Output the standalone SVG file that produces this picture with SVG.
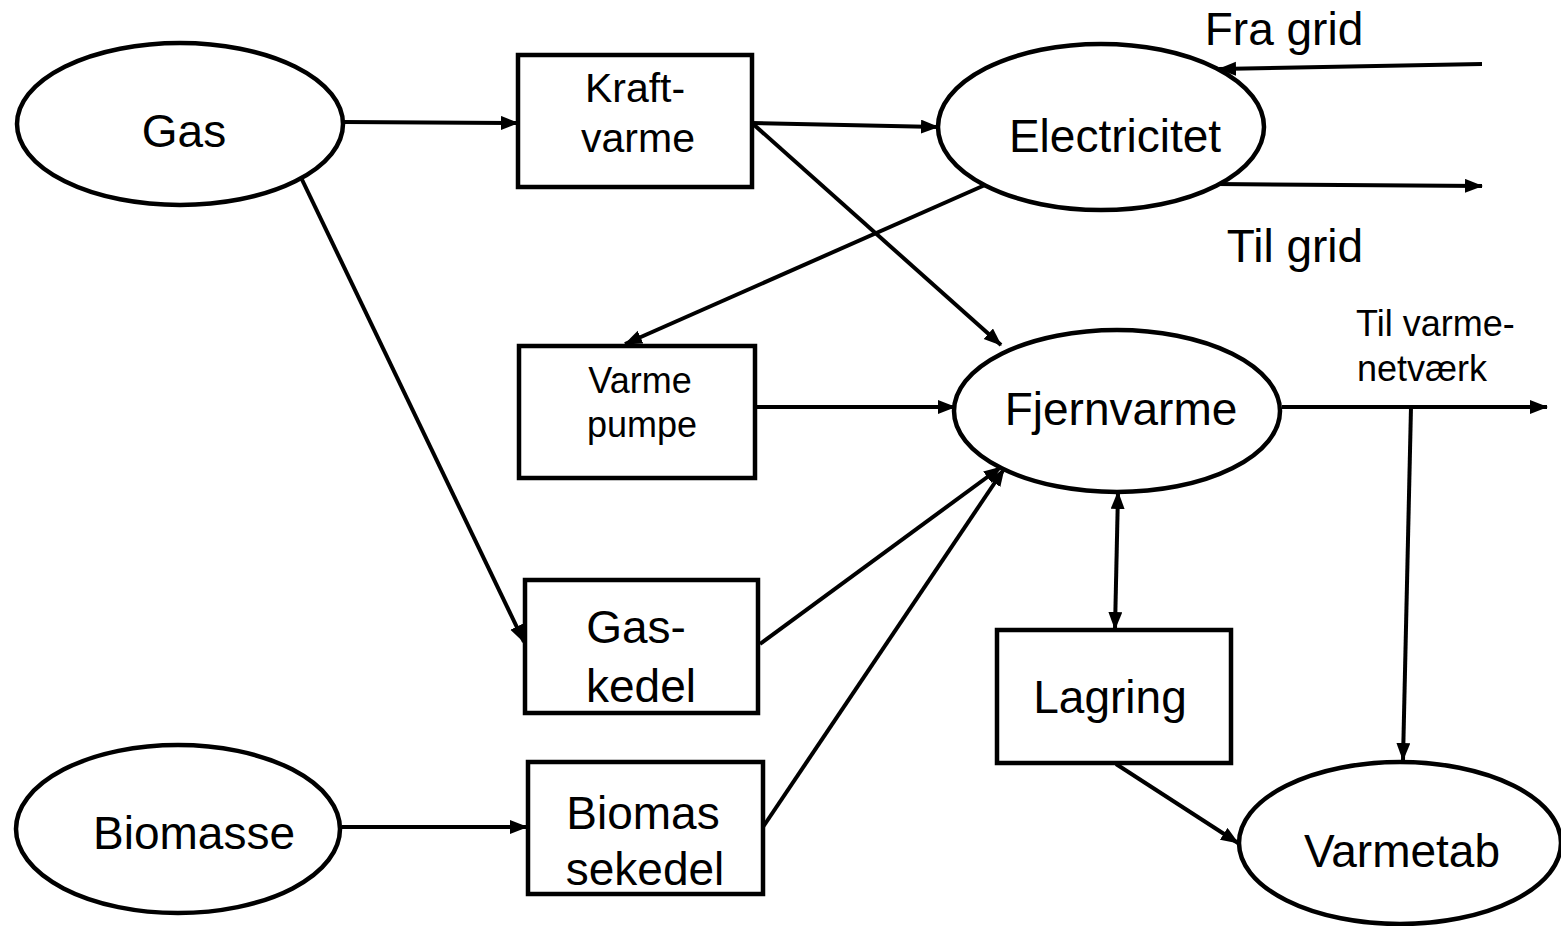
<svg xmlns="http://www.w3.org/2000/svg" width="1561" height="926" viewBox="0 0 1561 926">
<style>
.n{fill:#fff;stroke:#000;stroke-width:4.5}
.t{font-family:"Liberation Sans",Arial,sans-serif;fill:#000;text-anchor:middle}
.c{stroke:#000;stroke-width:4;fill:none}
.a{marker-end:url(#ah)}
</style>
<defs>
<marker id="ah" markerUnits="userSpaceOnUse" markerWidth="19" markerHeight="15" refX="17" refY="7" orient="auto-start-reverse" viewBox="0 0 19 15">
<path d="M0,0 L18,7 L0,14 z" fill="#000"/>
</marker>
</defs>
<rect width="1561" height="926" fill="#fff"/>
<g id="connectors">
<line class="c a" x1="343" y1="122" x2="518" y2="123"/>
<line class="c a" x1="752" y1="123" x2="938" y2="127"/>
<line class="c a" x1="752" y1="123" x2="1001" y2="345"/>
<line class="c a" x1="985" y1="185" x2="625" y2="344"/>
<line class="c a" x1="1482" y1="64" x2="1219" y2="69"/>
<line class="c a" x1="1216" y1="184" x2="1482" y2="186"/>
<line class="c a" x1="755" y1="407" x2="955" y2="407"/>
<line class="c a" x1="1282" y1="407" x2="1547" y2="407"/>
<line class="c a" x1="1411" y1="407" x2="1403" y2="760"/>
<line class="c a" x1="295" y1="165" x2="524" y2="642"/>
<line class="c a" x1="760" y1="644" x2="1001" y2="467"/>
<line class="c a" x1="763" y1="827" x2="1004" y2="469"/>
<line class="c a" x1="342" y1="827" x2="527" y2="827"/>
<line class="c a" x1="1118" y1="492" x2="1115" y2="629" style="marker-start:url(#ah)"/>
<line class="c a" x1="1116" y1="764" x2="1238" y2="843"/>
</g>
<g id="gas"><ellipse class="n" cx="180" cy="124" rx="163" ry="81"/><text class="t" x="184" y="147" font-size="46">Gas</text></g>
<g id="kraftvarme"><rect class="n" x="518" y="55" width="234" height="132"/><text class="t" x="635" y="102" font-size="41">Kraft-</text><text class="t" x="638" y="152" font-size="41">varme</text></g>
<g id="electricitet"><ellipse class="n" cx="1101" cy="127" rx="163" ry="83"/><text class="t" x="1115" y="152" font-size="46">Electricitet</text></g>
<g id="fra-grid"><text class="t" x="1284" y="45" font-size="46">Fra grid</text></g>
<g id="til-grid"><text class="t" x="1295" y="262" font-size="46">Til grid</text></g>
<g id="varmepumpe"><rect class="n" x="519" y="346" width="236" height="132"/><text class="t" x="640" y="393" font-size="36">Varme</text><text class="t" x="642" y="437" font-size="36">pumpe</text></g>
<g id="fjernvarme"><ellipse class="n" cx="1117" cy="411" rx="163" ry="81"/><text class="t" x="1121" y="425" font-size="46">Fjernvarme</text></g>
<g id="til-varmenetvaerk"><text x="1356" y="336" font-size="36" font-family="Liberation Sans, Arial, sans-serif">Til varme-</text><text x="1357" y="381" font-size="36" font-family="Liberation Sans, Arial, sans-serif">netværk</text></g>
<g id="gaskedel"><rect class="n" x="525" y="580" width="233" height="133"/><text class="t" x="636" y="643" font-size="46">Gas-</text><text class="t" x="641" y="702" font-size="46">kedel</text></g>
<g id="lagring"><rect class="n" x="997" y="630" width="234" height="133"/><text class="t" x="1110" y="713" font-size="46">Lagring</text></g>
<g id="biomasse"><ellipse class="n" cx="178" cy="829" rx="162" ry="84"/><text class="t" x="194" y="849" font-size="46">Biomasse</text></g>
<g id="biomassekedel"><rect class="n" x="528" y="762" width="235" height="132"/><text class="t" x="643" y="829" font-size="46">Biomas</text><text class="t" x="645" y="885" font-size="46">sekedel</text></g>
<g id="varmetab"><ellipse class="n" cx="1400" cy="843" rx="161" ry="81"/><text class="t" x="1402" y="867" font-size="46">Varmetab</text></g>
</svg>
